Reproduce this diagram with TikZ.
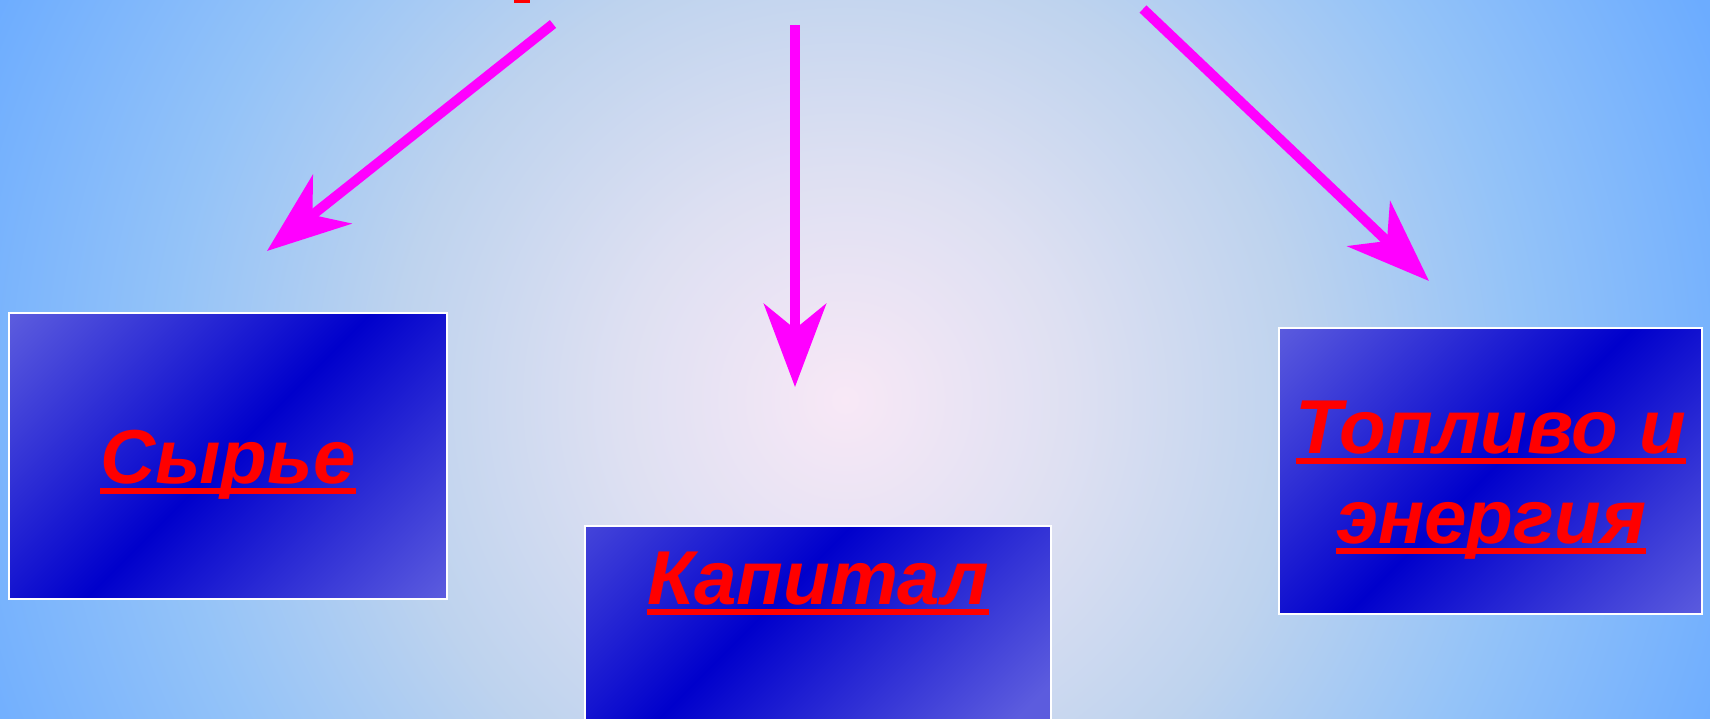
\documentclass[tikz,border=0pt]{standalone}
\usepackage{fontspec}
\newfontfamily\labfont{Liberation Sans}
\usepackage{xcolor}
\usepackage{tikz}
\usetikzlibrary{arrows.meta,calc}
\definecolor{bgc}{RGB}{248,232,246}
\definecolor{bga}{RGB}{222,224,242}
\definecolor{bgb}{RGB}{190,211,238}
\definecolor{bgd}{RGB}{148,195,248}
\definecolor{bge}{RGB}{108,172,255}
\definecolor{cardlt}{RGB}{92,92,222}
\definecolor{carddk}{RGB}{0,0,204}
\definecolor{arrmag}{RGB}{255,0,255}
\definecolor{labred}{RGB}{255,0,0}
\pgfdeclareradialshading{bgshade}{\pgfpoint{0bp}{0bp}}{color(0bp)=(bgc); color(6bp)=(bga); color(12bp)=(bgb); color(18bp)=(bgd); color(25bp)=(bge); color(50bp)=(bge)}
\pgfdeclarehorizontalshading{cardshade}{100bp}{color(0bp)=(cardlt); color(25bp)=(cardlt); color(50bp)=(carddk); color(75bp)=(cardlt); color(100bp)=(cardlt)}
\newcommand\redul[1]{\setbox0=\hbox{#1}\rlap{\rule[-0.15em]{\wd0}{0.085em}}\box0}
\tikzset{
  card/.style={draw=white, line width=0.04cm, inner sep=0pt,
    path picture={\shade[shading=cardshade, shading angle=-45]
      ([yshift=#1, shift={(-5.1cm,-5.1cm)}]path picture bounding box.center) rectangle
      ([yshift=#1, shift={(5.1cm,5.1cm)}]path picture bounding box.center);}},
  card/.default=0cm,
  lbl/.style={anchor=base, text=labred, inner sep=0pt, font=\labfont\bfseries\itshape\fontsize{43.5}{52}\selectfont},
  arr/.style={draw=arrmag, fill=arrmag, line width=0.2cm, -{Stealth[length=1.66cm, width=1.24cm, inset=0.5cm]}},
}
\begin{document}
\begin{tikzpicture}[x=0.02cm, y=-0.02cm]
\useasboundingbox (0,0) rectangle (1710,719);
% background
\begin{scope}
\clip (0,0) rectangle (1710,719);
\shade[shading=bgshade] (-99,-544) rectangle (1789,1344);
\end{scope}
\fill[labred] (514,0) rectangle (530,3);
% boxes
\node[card, minimum width=8.76cm, minimum height=5.72cm] (raw) at (228,456) {};
\node[card=1.3cm, minimum width=9.32cm, minimum height=3.92cm] (cap) at (818,624) {};
\node[card, minimum width=8.46cm, minimum height=5.72cm] (fuel) at (1490.5,471) {};
\node[lbl] (rawtxt) at (228,483) {\redul{Сырье}};
\node[lbl] (captxt) at (818,604) {\redul{Капитал}};
\node[lbl] (fueltxt) at (1491,453) {\redul{Топливо и}};
\node[lbl] (enrtxt) at (1491,543) {\redul{энергия}};
% arrows
\coordinate (srcL) at (553,24);
\coordinate (tipL) at (267,251);
\coordinate (srcM) at (795,25);
\coordinate (tipM) at (795,387);
\coordinate (srcR) at (1143,9);
\coordinate (tipR) at (1429,281);
\foreach \a/\b in {srcL/tipL,srcM/tipM,srcR/tipR} \draw[arr] (\a)--(\b);
\end{tikzpicture}
\end{document}
